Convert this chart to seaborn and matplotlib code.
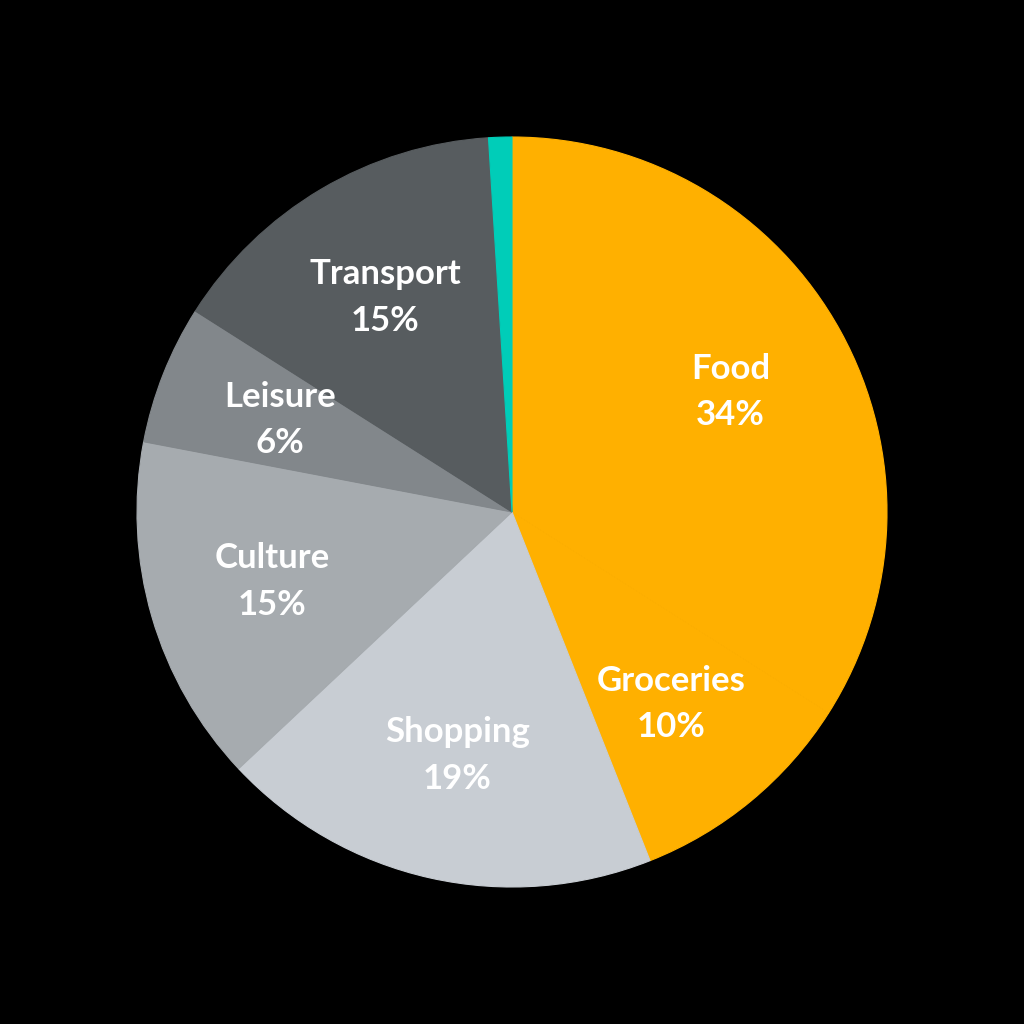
import matplotlib
matplotlib.use("Agg")
import matplotlib.pyplot as plt
import seaborn as sns

categories = ["Food", "Groceries", "Shopping", "Culture", "Leisure", "Transport", ""]
shares = [34, 10, 19, 15, 6, 15, 1]
colors = ["#FFB000", "#FFB000", "#C8CDD3", "#A6ABAF", "#82878B", "#575C5F", "#00CDB8"]

sns.set_style("white")
plt.rcParams["font.family"] = ["Lato", "DejaVu Sans"]

fig = plt.figure(figsize=(10.24, 10.24), dpi=100, facecolor="black")
ax = fig.add_axes([0, 0, 1, 1])
ax.set_facecolor("black")

labels = [f"{c}\n{s}%" if c else "" for c, s in zip(categories, shares)]
wedges, texts = ax.pie(shares, labels=labels, colors=colors, startangle=90,
                       counterclock=False, labeldistance=0.665,
                       textprops=dict(color="white", fontsize=25, fontweight="bold"))
# hide the hairline seams between wedges
for w in wedges:
    w.set_edgecolor(w.get_facecolor())
    w.set_linewidth(0.8)
for t in texts:
    t.set_horizontalalignment("center")
    t.set_verticalalignment("center")
    t.set_linespacing(1.55)

lim = 512 / 375
ax.set_xlim(-lim, lim)
ax.set_ylim(-lim, lim)
ax.set_aspect("equal")
ax.axis("off")

fig.savefig("out.png", dpi=100, facecolor="black")
